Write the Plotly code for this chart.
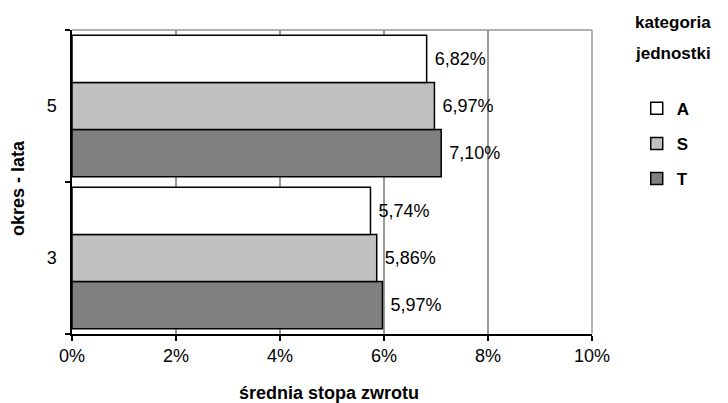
import plotly.graph_objects as go

categories = ["3", "5"]
series_names = ["A", "S", "T"]
values_A = [0.0574, 0.0682]
values_S = [0.0586, 0.0697]
values_T = [0.0597, 0.0710]
x_ticks = [0, 0.02, 0.04, 0.06, 0.08, 0.10]
x_tick_labels = ["0%", "2%", "4%", "6%", "8%", "10%"]

colors = {"A": "#ffffff", "S": "#c0c0c0", "T": "#808080"}
data = {"A": values_A, "S": values_S, "T": values_T}
ypos = list(range(len(categories)))
FONT = "Arial, Liberation Sans, sans-serif"

fig = go.Figure()
for rank, name in zip([3, 2, 1], ["T", "S", "A"]):
    fig.add_trace(go.Bar(
        y=ypos, x=data[name], orientation="h", name=name,
        marker=dict(color=colors[name], line=dict(color="#000000", width=1.5)),
        texttemplate=" %{x:.2%}", textposition="outside",
        textfont=dict(family=FONT, size=18, color="#000"),
        cliponaxis=False, legendgroup=name, legendrank=rank,
    ))

fig.update_layout(
    width=728, height=403,
    margin=dict(l=72, r=136, t=30, b=69),
    paper_bgcolor="white", plot_bgcolor="white",
    barmode="group", bargap=0.07, bargroupgap=0,
    separators=", ",
    font=dict(family=FONT, size=18, color="#000"),
    legend=dict(
        x=1.086, xanchor="left", y=0.80, yanchor="top",
        traceorder="grouped", tracegroupgap=10,
        font=dict(size=17, family=FONT, weight="bold"),
        itemwidth=30,
    ),
    showlegend=True,
)
fig.update_xaxes(
    range=[0, 0.10], tickvals=x_ticks, ticktext=x_tick_labels,
    showgrid=True, gridcolor="#999999", gridwidth=1.5,
    showline=True, linecolor="#000", linewidth=1.5,
    ticks="outside", ticklen=5, tickcolor="#000", tickwidth=1.5,
    zeroline=False, automargin=False,
)
fig.update_yaxes(
    range=[-0.5, len(categories) - 0.5], tickvals=ypos, ticktext=categories,
    showgrid=False, zeroline=False, automargin=False,
    showline=True, linecolor="#000", linewidth=1.5,
    ticks="", ticklabelstandoff=10,
    minor=dict(tickmode="array", tickvals=[-0.5, 0.5, 1.5], ticks="outside",
               ticklen=5, tickcolor="#000", tickwidth=1.5, showgrid=False),
)
fig.add_shape(type="line", xref="paper", yref="paper", x0=0, x1=1, y0=1, y1=1,
              line=dict(color="#999999", width=1.5), layer="below")
fig.add_shape(type="line", xref="paper", yref="paper", x0=1, x1=1, y0=0, y1=1,
              line=dict(color="#999999", width=1.5), layer="below")

bold = dict(family=FONT, size=18, color="#000", weight="bold")
# x axis title
fig.add_annotation(text="średnia stopa zwrotu", xref="paper", yref="paper",
                   x=0.495, y=0, yshift=-59, xanchor="center", yanchor="middle",
                   showarrow=False, font=bold)
# y axis title
fig.add_annotation(text="okres - lata", xref="paper", yref="paper",
                   x=0, xshift=-54, y=0.5, yshift=-6, xanchor="center", yanchor="middle",
                   textangle=-90, showarrow=False, font=bold)
# legend title
leg = dict(family=FONT, size=17, color="#000", weight="bold")
fig.add_annotation(text="kategoria", xref="paper", yref="paper",
                   x=1, xshift=81, y=1, yshift=8, xanchor="center", yanchor="middle",
                   showarrow=False, font=leg)
fig.add_annotation(text="jednostki", xref="paper", yref="paper",
                   x=1, xshift=81, y=1, yshift=-23, xanchor="center", yanchor="middle",
                   showarrow=False, font=leg)

fig.write_html("out.html", config={"displayModeBar": False},
               post_script="document.body.style.margin='0';")
